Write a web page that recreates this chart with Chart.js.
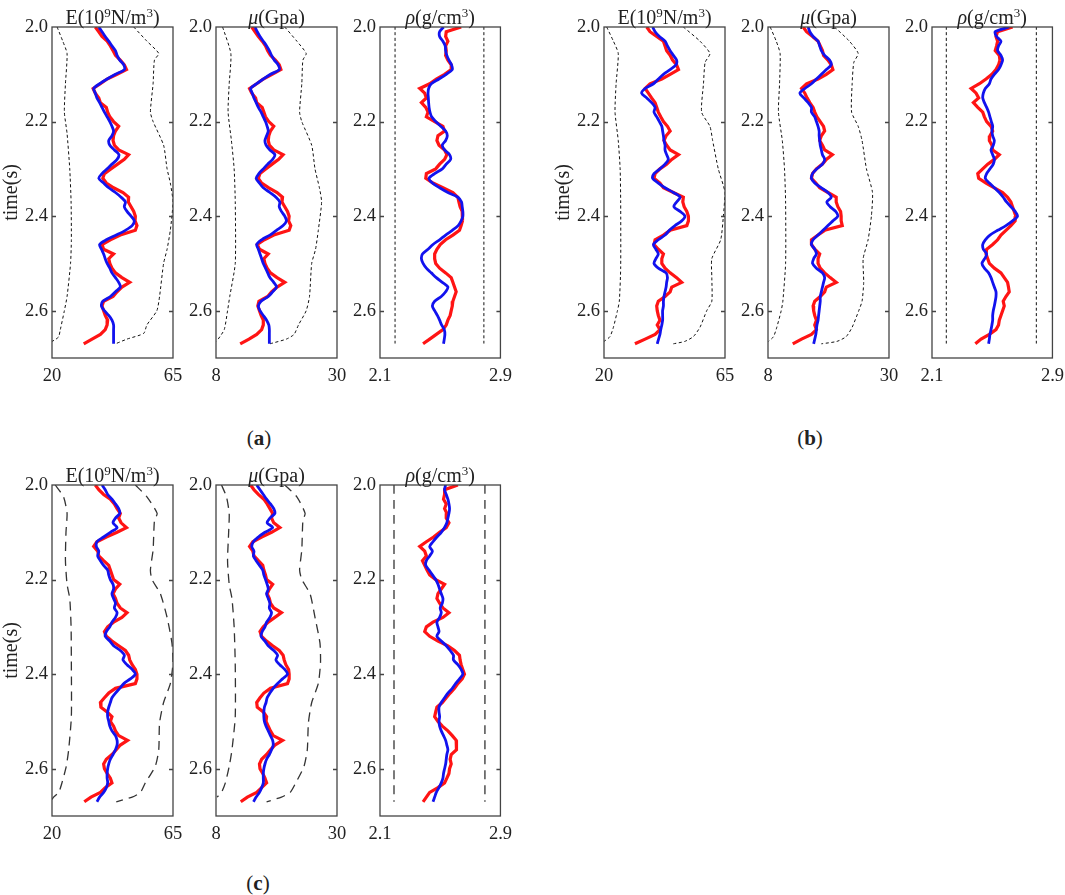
<!DOCTYPE html>
<html><head><meta charset="utf-8">
<script src="https://cdn.jsdelivr.net/npm/chart.js@4.4.1/dist/chart.umd.min.js"></script>
<style>
html,body{margin:0;padding:0;background:#fff}
body{width:1065px;height:895px;position:relative;overflow:hidden;font-family:"Liberation Serif","Times New Roman",serif}
canvas.pc{position:absolute}
.lab{position:absolute;font-family:"Liberation Serif","Times New Roman",serif;font-size:21px;line-height:21px;color:#222;transform:translateX(-50%);white-space:nowrap}
</style></head><body>
<div class="lab" style="left:259px;top:428px">(<b>a</b>)</div>
<div class="lab" style="left:810px;top:428px">(<b>b</b>)</div>
<div class="lab" style="left:258px;top:873px">(<b>c</b>)</div>
<script>
// ---------- DATA ----------
const timeGrid = [2.00,2.01,2.02,2.03,2.04,2.05,2.06,2.07,2.08,2.09,
 2.10,2.11,2.12,2.13,2.14,2.15,2.16,2.17,2.18,2.19,
 2.20,2.21,2.22,2.23,2.24,2.25,2.26,2.27,2.28,2.29,
 2.30,2.31,2.32,2.33,2.34,2.35,2.36,2.37,2.38,2.39,
 2.40,2.41,2.42,2.43,2.44,2.45,2.46,2.47,2.48,2.49,
 2.50,2.51,2.52,2.53,2.54,2.55,2.56,2.57,2.58,2.59,
 2.60,2.61,2.62,2.63,2.64,2.65,2.66,2.67];
const yTicks = [2.0, 2.2, 2.4, 2.6];
const xTicksE = [20, 65];
const xTicksMu = [8, 30];
const xTicksRho = [2.1, 2.9];

// (a)
const aEBlue = [37.4,38.6,39.8,41.1,42.3,43.6,44.2,45.2,46.7,46.9, 43.6,40.5,37.7,35.5,36.1,36.7,37.7,38.6,39.5,40.5, 41.5,42.3,42.9,42.3,41.1,41.5,43.2,44.9,44.2,42.3, 40.5,38.6,37.4,39.2,41.1,43.6,45.7,47.3,46.9,47.9, 49.4,50.6,49.8,47.3,43.9,40.2,37.7,38.4,39.2,39.8, 40.5,41.5,42.3,43.6,44.8,45.4,43.6,41.7,38.9,38.4, 39.5,41.1,42.3,42.9,42.9,42.9,42.9,42.9];
const aERed = [36.1,37.4,38.6,40.5,41.7,42.7,43.6,45.4,46.9,47.7, 44.2,40.5,38.0,35.3,36.1,37.4,38.0,40.2,40.7,41.5, 42.9,44.8,43.6,42.9,42.7,43.2,44.8,48.5,46.9,44.4, 41.9,39.5,38.9,40.2,42.9,46.4,48.5,48.4,49.4,50.4, 51.0,50.9,51.6,51.0,45.4,41.7,38.6,39.2,42.9,41.1, 41.5,42.3,43.6,46.0,48.9,46.0,44.2,42.7,39.2,38.6, 39.2,39.8,40.7,40.5,39.8,38.0,34.9,31.8];
const aELowT = [2.00,2.03,2.056,2.12,2.18,2.225,2.30,2.37,2.45,2.50,2.57,2.60,2.64,2.655,2.66,2.665];
const aELow = [21.9,24.0,25.6,25.0,24.6,25.6,26.6,27.1,27.2,26.9,25.6,24.6,23.1,22.5,21.5,20.0];
const aEHighT = [2.00,2.03,2.056,2.07,2.12,2.18,2.20,2.25,2.30,2.33,2.37,2.43,2.47,2.50,2.57,2.60,2.63,2.648,2.66,2.67];
const aEHigh = [50.4,55.3,59.7,58.1,57.6,56.6,57.6,61.5,62.8,64.0,65.0,64.0,62.8,61.5,60.0,59.0,55.3,54.1,47.9,43.6];

const aMuBlue = [15.1,15.5,16.0,16.6,17.2,17.7,18.1,18.6,19.3,19.5, 17.9,16.6,15.4,14.3,14.6,14.9,15.3,15.7,16.2,16.6, 17.0,17.3,17.5,17.2,16.9,17.1,17.8,18.7,18.3,17.4, 16.6,15.8,15.3,15.9,16.6,17.8,18.9,19.6,19.5,19.9, 20.5,20.8,20.2,19.0,17.8,16.3,15.4,15.7,16.0,16.3, 16.6,17.0,17.4,17.8,18.5,19.0,18.3,17.5,16.2,15.7, 16.0,16.6,17.2,17.6,17.7,17.7,17.7,17.7];
const aMuRed = [14.5,15.1,15.7,16.4,17.0,17.4,17.9,18.8,19.5,19.8, 18.2,16.6,15.4,14.1,14.5,15.2,15.4,16.4,16.7,17.0, 17.6,18.5,17.9,17.6,17.5,17.7,18.5,20.2,19.4,18.2, 17.1,16.0,15.7,16.3,17.6,19.1,20.1,20.0,20.5,21.0, 21.3,21.2,21.6,21.3,18.5,16.8,15.5,15.9,17.5,16.7, 16.9,17.3,17.9,19.1,20.5,19.1,18.1,17.4,15.8,15.6, 15.9,16.2,16.6,16.6,16.3,15.4,14.0,12.4];
const aMuLowT = [2.00,2.056,2.12,2.18,2.24,2.30,2.37,2.50,2.57,2.60,2.64,2.66,2.665];
const aMuLow = [9.2,10.7,10.4,10.2,10.8,11.3,11.5,11.5,10.5,10.1,9.5,8.4,8.0];
const aMuHighT = [2.00,2.03,2.056,2.07,2.12,2.18,2.20,2.25,2.30,2.34,2.37,2.43,2.47,2.50,2.57,2.60,2.63,2.65,2.66,2.67];
const aMuHigh = [20.5,22.7,24.4,23.8,23.6,23.2,23.6,25.4,26.0,26.8,27.2,26.6,26.1,25.4,25.0,24.4,23.0,22.2,20.8,17.8];

const aRhoBlue = [2.522,2.496,2.496,2.518,2.533,2.536,2.544,2.558,2.575,2.580, 2.540,2.492,2.441,2.423,2.419,2.421,2.423,2.426,2.432,2.443, 2.470,2.503,2.536,2.547,2.536,2.514,2.529,2.562,2.569,2.540, 2.514,2.463,2.426,2.448,2.496,2.551,2.617,2.641,2.646,2.650, 2.650,2.639,2.619,2.580,2.536,2.496,2.452,2.419,2.382,2.375, 2.386,2.408,2.441,2.474,2.514,2.551,2.536,2.507,2.463,2.448, 2.463,2.481,2.496,2.509,2.527,2.531,2.527,2.522];
const aRhoRed = [2.639,2.540,2.536,2.551,2.536,2.540,2.536,2.551,2.573,2.573, 2.529,2.474,2.430,2.364,2.397,2.408,2.375,2.404,2.419,2.408, 2.463,2.518,2.529,2.485,2.478,2.492,2.529,2.544,2.529,2.496, 2.470,2.408,2.404,2.452,2.518,2.584,2.617,2.624,2.632,2.646, 2.650,2.646,2.639,2.628,2.584,2.536,2.500,2.478,2.463,2.463, 2.470,2.496,2.536,2.573,2.584,2.595,2.606,2.595,2.584,2.580, 2.573,2.566,2.551,2.540,2.518,2.474,2.430,2.386];
const rhoBoundT = [2.0, 2.67];
const aRhoLow = [2.200, 2.200];
const aRhoHigh = [2.790, 2.790];

// (b)
const bEBlue = [38.1,39.0,40.6,42.7,43.6,44.6,45.8,47.0,46.8,44.6, 42.1,40.2,38.4,35.3,34.0,35.9,37.7,39.0,38.6,39.6, 40.6,41.5,41.8,42.1,42.3,42.7,42.7,43.3,43.9,42.7, 40.8,38.6,38.1,40.2,42.7,45.8,48.3,47.0,46.0,48.3, 50.1,48.9,46.4,44.3,42.7,40.2,38.4,39.3,40.2,39.3, 38.6,40.2,43.1,43.6,43.3,43.1,42.7,42.3,42.1,42.1, 41.8,41.8,41.8,41.5,41.1,40.8,40.3,39.8];
const bERed = [35.9,37.1,39.6,42.1,42.7,43.3,44.6,45.5,47.0,47.7, 44.6,41.5,37.1,35.3,36.5,37.7,39.0,39.6,40.2,41.1, 42.1,43.6,44.6,43.1,42.3,43.3,44.6,47.7,45.2,43.3, 40.8,39.0,38.6,40.8,42.1,45.8,49.5,49.3,49.8,50.8, 51.4,51.4,50.8,44.6,42.1,39.0,38.6,40.2,42.1,41.5, 41.5,42.7,44.6,47.0,48.9,45.2,44.6,42.7,40.2,39.6, 39.8,40.2,40.8,39.8,40.8,39.0,35.3,31.5];
const bELowT = [2.00,2.03,2.056,2.12,2.18,2.24,2.30,2.37,2.51,2.58,2.60,2.635,2.655,2.665];
const bELow = [21.0,23.5,25.3,24.5,24.1,25.3,26.0,26.2,26.2,25.7,25.0,23.5,22.2,20.0];
const bEHighT = [2.00,2.03,2.056,2.075,2.12,2.18,2.21,2.24,2.30,2.35,2.40,2.45,2.49,2.53,2.58,2.60,2.635,2.655,2.665,2.67];
const bEHigh = [49.5,55.7,59.4,57.6,57.0,56.3,59.4,60.4,62.5,65.0,64.4,63.4,60.1,60.1,60.1,58.2,55.7,53.2,50.0,45.8];

const bMuBlue = [15.3,15.6,16.2,17.1,17.4,17.7,18.3,19.2,19.5,18.6, 17.7,16.8,15.9,14.7,13.8,14.5,15.3,15.9,15.9,16.5, 16.8,17.1,17.3,17.3,17.4,17.5,17.7,17.9,18.3,17.9, 16.9,16.1,15.9,16.5,17.7,18.9,19.5,18.7,19.3,20.3, 20.7,19.8,18.9,18.0,17.1,16.2,15.9,16.5,16.8,16.3, 16.1,16.8,17.9,18.3,18.1,17.9,17.7,17.5,17.5,17.4, 17.3,17.2,17.1,16.9,16.8,16.7,16.5,16.3];
const bMuRed = [14.4,15.0,16.1,17.1,17.5,17.9,18.1,18.9,19.5,19.8, 18.6,17.1,15.0,14.1,14.7,15.1,15.6,16.2,16.5,16.9, 17.5,18.1,18.3,17.7,17.4,17.9,18.3,19.7,18.6,17.9, 16.8,16.1,15.9,16.7,17.4,18.9,20.4,20.4,20.7,21.2, 21.3,21.3,21.5,18.3,17.1,15.9,15.9,16.5,17.4,17.1, 17.1,17.5,18.3,19.3,20.4,18.6,18.3,17.5,16.5,16.2, 16.3,16.5,16.8,16.5,16.8,15.9,14.1,12.5];
const bMuLowT = [2.00,2.03,2.056,2.12,2.18,2.24,2.30,2.37,2.50,2.58,2.60,2.635,2.655,2.665];
const bMuLow = [8.4,9.5,10.2,10.1,9.9,10.6,11.0,11.2,11.2,10.7,10.4,9.6,9.0,8.1];
const bMuHighT = [2.00,2.03,2.056,2.075,2.12,2.18,2.21,2.24,2.30,2.35,2.40,2.45,2.49,2.54,2.58,2.60,2.635,2.655,2.665,2.67];
const bMuHigh = [20.1,22.8,24.4,23.6,23.3,23.2,24.4,25.1,25.9,27.0,26.8,26.2,25.3,25.4,25.1,24.5,23.3,22.2,20.5,17.7];

const bRhoBlue = [2.613,2.520,2.529,2.558,2.542,2.536,2.558,2.569,2.558,2.542, 2.514,2.492,2.481,2.454,2.441,2.437,2.448,2.463,2.476,2.485, 2.494,2.503,2.498,2.503,2.514,2.507,2.492,2.503,2.514,2.507, 2.485,2.463,2.454,2.481,2.514,2.547,2.573,2.595,2.624,2.652, 2.668,2.635,2.591,2.536,2.485,2.454,2.437,2.441,2.463,2.450, 2.432,2.448,2.476,2.492,2.503,2.514,2.525,2.525,2.520,2.514, 2.507,2.503,2.503,2.498,2.492,2.485,2.481,2.476];
const bRhoRed = [2.635,2.536,2.525,2.536,2.529,2.520,2.547,2.551,2.542,2.525, 2.498,2.459,2.415,2.360,2.393,2.410,2.375,2.404,2.437,2.448, 2.463,2.492,2.503,2.485,2.481,2.498,2.503,2.547,2.514,2.470, 2.437,2.404,2.410,2.459,2.514,2.569,2.602,2.624,2.635,2.646, 2.657,2.652,2.624,2.591,2.558,2.536,2.503,2.463,2.459,2.470, 2.481,2.514,2.558,2.580,2.602,2.608,2.613,2.591,2.573,2.580, 2.569,2.558,2.547,2.542,2.525,2.481,2.426,2.388];
const bRhoLow = [2.195, 2.195];
const bRhoHigh = [2.793, 2.793];

// (c)
const cEBlue = [38.6,39.8,40.7,42.3,43.6,44.8,45.2,43.6,42.7,44.2, 41.7,39.2,36.7,36.5,37.4,37.0,38.0,39.2,40.7,41.1, 41.7,42.7,42.9,42.3,42.9,43.6,43.2,44.2,43.6,42.3, 41.5,40.2,39.8,41.5,42.9,45.4,46.9,46.4,47.9,49.8, 51.0,49.1,46.7,45.2,43.6,42.3,41.7,41.1,40.7,40.7, 41.1,41.5,42.3,43.6,44.2,44.2,43.6,42.7,41.7,41.1, 40.7,40.5,40.5,40.7,40.2,39.2,37.7,36.7];
const cERed = [36.1,37.4,39.2,41.7,43.2,44.2,45.4,44.8,45.7,47.7, 44.2,40.2,36.7,35.5,37.0,37.4,39.2,41.1,41.7,42.3, 42.9,45.2,43.6,42.7,43.6,44.2,45.4,47.9,46.0,42.9, 40.7,39.5,40.2,42.3,44.8,47.3,48.5,48.9,49.8,51.0, 51.6,51.6,51.0,43.6,41.1,39.5,38.0,38.2,40.5,42.3, 41.7,42.9,43.6,44.8,48.1,45.4,43.9,42.3,40.2,39.2, 39.5,40.5,41.7,42.3,39.8,38.0,34.5,32.0];
const cELowT = [2.00,2.025,2.06,2.10,2.16,2.21,2.24,2.30,2.38,2.49,2.56,2.595,2.63,2.65,2.66,2.665];
const cELow = [21.2,24.3,25.6,25.2,25.0,25.6,26.6,27.1,27.2,27.2,26.2,25.3,23.7,22.5,20.6,20.0];
const cEHighT = [2.00,2.025,2.06,2.075,2.137,2.18,2.20,2.23,2.28,2.334,2.376,2.42,2.46,2.503,2.56,2.595,2.63,2.65,2.66,2.67];
const cEHigh = [51.0,55.3,59.1,58.1,57.6,56.6,57.2,60.3,62.8,64.6,65.0,64.0,61.5,60.0,59.7,58.4,54.7,52.9,49.8,43.9];

const cMuBlue = [15.4,16.0,16.6,17.2,17.9,18.5,18.7,17.8,17.3,18.3, 16.9,15.7,14.8,14.5,14.9,14.8,15.3,15.9,16.5,16.7, 17.0,17.3,17.5,17.2,17.5,17.8,17.7,18.1,17.8,17.2, 16.9,16.4,16.2,16.9,17.5,18.5,19.2,18.9,19.6,20.5, 21.0,20.1,19.2,18.4,17.8,17.3,17.1,16.8,16.7,16.7, 16.8,17.1,17.5,17.9,18.3,18.4,18.1,17.7,17.2,16.9, 16.7,16.6,16.6,16.6,16.3,15.9,15.3,14.8];
const cMuRed = [14.3,14.9,15.7,16.7,17.3,17.8,18.3,18.1,18.5,19.6, 18.1,16.3,14.7,14.1,14.7,14.9,15.7,16.5,16.7,17.0, 17.2,18.3,17.7,17.3,17.7,17.9,18.5,19.9,18.7,17.5, 16.6,16.0,16.3,17.2,18.3,19.5,20.2,20.4,20.7,21.2, 21.3,21.3,21.0,17.9,16.7,16.0,15.4,15.5,16.6,17.2, 17.1,17.5,17.9,18.4,20.1,18.7,17.9,17.2,16.3,15.9, 16.0,16.5,16.9,17.2,16.3,15.4,13.7,12.5];
const cMuLowT = [2.00,2.025,2.06,2.10,2.16,2.21,2.24,2.30,2.38,2.49,2.56,2.595,2.63,2.65,2.66];
const cMuLow = [9.0,9.9,10.4,10.3,10.1,10.4,10.9,11.3,11.5,11.5,10.9,10.4,9.7,9.0,8.2];
const cMuHighT = [2.00,2.025,2.06,2.075,2.137,2.18,2.20,2.23,2.28,2.334,2.376,2.42,2.46,2.503,2.56,2.595,2.63,2.65,2.66,2.67];
const cMuHigh = [20.5,22.7,24.2,23.8,23.6,23.2,23.6,25.1,26.0,26.9,27.0,26.6,25.4,24.8,24.6,24.0,22.5,21.5,19.9,17.2];

const cRhoBlue = [2.536,2.529,2.540,2.551,2.558,2.562,2.558,2.551,2.544,2.529, 2.507,2.478,2.452,2.430,2.448,2.430,2.408,2.404,2.426,2.448, 2.470,2.485,2.496,2.507,2.518,2.514,2.500,2.507,2.496,2.478, 2.485,2.492,2.478,2.507,2.540,2.566,2.588,2.588,2.617,2.639, 2.650,2.628,2.602,2.580,2.551,2.529,2.507,2.492,2.492,2.496, 2.492,2.496,2.507,2.522,2.536,2.544,2.551,2.544,2.540,2.536, 2.529,2.522,2.518,2.507,2.492,2.474,2.463,2.452];
const cRhoRed = [2.617,2.529,2.529,2.522,2.540,2.529,2.544,2.540,2.558,2.540, 2.496,2.456,2.408,2.364,2.397,2.408,2.382,2.397,2.412,2.430, 2.470,2.529,2.507,2.485,2.478,2.496,2.518,2.558,2.518,2.452, 2.408,2.397,2.430,2.485,2.551,2.595,2.628,2.632,2.639,2.650, 2.661,2.646,2.617,2.595,2.566,2.540,2.514,2.478,2.470,2.463, 2.485,2.514,2.551,2.580,2.606,2.606,2.610,2.573,2.566,2.573, 2.562,2.558,2.544,2.529,2.485,2.430,2.408,2.386];
const cRhoLow = [2.193, 2.193];
const cRhoHigh = [2.797, 2.797];

// ---------- LAYOUT / STYLE ----------
const FONT = '"Liberation Serif", "Times New Roman", serif';
const PANEL_W = 121, PANEL_H = 331, AXIS_W = 50, TOP_PAD = 27, RIGHT_PAD = 18, BOTTOM_H = 32;
const groups = [
  {key:'a', x:51.7, y:26.5, dash:[3,2.5], dashColor:'#111', dashWidth:1},
  {key:'b', x:604,  y:26.5, dash:[3,2.5], dashColor:'#111', dashWidth:1},
  {key:'c', x:51.7, y:485,  dash:[9,6],   dashColor:'#333', dashWidth:1.3}
];
const colDx = [0, 164.3, 328.3];

const titles = {
  E:   [{t:'E(10'},{t:'9',sup:true},{t:'N/m'},{t:'3',sup:true},{t:')'}],
  Mu:  [{t:'\u03BC',it:true},{t:'(Gpa)'}],
  Rho: [{t:'\u03C1',it:true},{t:'(g/cm'},{t:'3',sup:true},{t:')'}]
};
const ranges = { E:[20,65,xTicksE], Mu:[8,30,xTicksMu], Rho:[2.1,2.9,xTicksRho] };

const dataTable = {
  a:{E:[aEBlue,aERed,aELowT,aELow,aEHighT,aEHigh], Mu:[aMuBlue,aMuRed,aMuLowT,aMuLow,aMuHighT,aMuHigh], Rho:[aRhoBlue,aRhoRed,rhoBoundT,aRhoLow,rhoBoundT,aRhoHigh]},
  b:{E:[bEBlue,bERed,bELowT,bELow,bEHighT,bEHigh], Mu:[bMuBlue,bMuRed,bMuLowT,bMuLow,bMuHighT,bMuHigh], Rho:[bRhoBlue,bRhoRed,rhoBoundT,bRhoLow,rhoBoundT,bRhoHigh]},
  c:{E:[cEBlue,cERed,cELowT,cELow,cEHighT,cEHigh], Mu:[cMuBlue,cMuRed,cMuLowT,cMuLow,cMuHighT,cMuHigh], Rho:[cRhoBlue,cRhoRed,rhoBoundT,cRhoLow,rhoBoundT,cRhoHigh]}
};

function pts(ts, vs){ return ts.map((t,i)=>({x:vs[i], y:t})); }

function framePlugin(segs){
  return {
    id:'frameTitle',
    afterDraw(chart){
      const {ctx, chartArea:{left,right,top,bottom}, scales:{y}} = chart;
      ctx.save();
      ctx.strokeStyle = '#444'; ctx.lineWidth = 1.3;
      ctx.strokeRect(left, top, right-left, bottom-top);
      ctx.beginPath();
      yTicks.forEach(v=>{
        if (v === 2.0) return;
        const py = Math.round(y.getPixelForValue(v)) + 0.5;
        ctx.moveTo(left, py); ctx.lineTo(left+4, py);
        ctx.moveTo(right, py); ctx.lineTo(right-4, py);
      });
      ctx.stroke();
      // title
      const fontOf = s => s.sup ? '13px ' + FONT : (s.it ? 'italic 20px ' + FONT : '20px ' + FONT);
      let total = 0;
      segs.forEach(s=>{ ctx.font = fontOf(s); total += ctx.measureText(s.t).width; });
      let x = (left+right)/2 - total/2;
      const base = top - 3.5;
      ctx.fillStyle = '#222'; ctx.textBaseline = 'alphabetic'; ctx.textAlign = 'left';
      segs.forEach(s=>{
        ctx.font = fontOf(s);
        ctx.fillText(s.t, x, s.sup ? base - 7 : base);
        x += ctx.measureText(s.t).width;
      });
      ctx.restore();
    }
  };
}

function makePanel(g, col, kind){
  const fx = g.x + colDx[col], fy = g.y;
  const cv = document.createElement('canvas');
  cv.className = 'pc';
  const W = AXIS_W + PANEL_W + RIGHT_PAD, H = TOP_PAD + PANEL_H + BOTTOM_H;
  cv.width = W; cv.height = H;
  cv.style.width = W + 'px'; cv.style.height = H + 'px';
  cv.style.left = (fx - AXIS_W) + 'px'; cv.style.top = (fy - TOP_PAD) + 'px';
  document.body.appendChild(cv);
  const [blue, red, loT, lo, hiT, hi] = dataTable[g.key][kind];
  const [xmin, xmax, xt] = ranges[kind];
  const dashDs = (ts, vs) => ({data:pts(ts, vs), showLine:true, pointRadius:0, borderColor:g.dashColor,
    borderWidth:g.dashWidth, borderDash:g.dash, tension:0.2, order:2, fill:false});
  new Chart(cv, {
    type:'scatter',
    data:{datasets:[
      {label:'blue', data:pts(timeGrid, blue), showLine:true, pointRadius:0, borderColor:'#1212ee', borderWidth:2.8, tension:0.3, order:0, fill:false},
      {label:'red', data:pts(timeGrid, red), showLine:true, pointRadius:0, borderColor:'#ff1414', borderWidth:3.2, tension:0, order:1, fill:false},
      Object.assign({label:'lower'}, dashDs(loT, lo)),
      Object.assign({label:'upper'}, dashDs(hiT, hi))
    ]},
    options:{
      responsive:false, animation:false, devicePixelRatio:1,
      layout:{padding:{top:TOP_PAD, right:RIGHT_PAD, left:0, bottom:0}},
      plugins:{legend:{display:false}, tooltip:{enabled:false}},
      scales:{
        x:{type:'linear', min:xmin, max:xmax,
           grid:{display:false, drawTicks:false}, border:{display:false},
           afterBuildTicks:s=>{ s.ticks = xt.map(v=>({value:v})); },
           afterFit:s=>{ s.height = BOTTOM_H; },
           ticks:{padding:7, color:'#222', autoSkip:false, maxRotation:0,
                  font:{family:FONT, size:18.5}, callback:v=>String(v)}},
        y:{type:'linear', reverse:true, min:2.0, max:2.7,
           grid:{display:false, drawTicks:false}, border:{display:false},
           afterBuildTicks:s=>{ s.ticks = yTicks.map(v=>({value:v})); },
           afterFit:s=>{ s.width = AXIS_W; },
           ticks:{padding:4, color:'#222', autoSkip:false,
                  font:{family:FONT, size:18.5}, callback:v=>Number(v).toFixed(1)},
           title:{display: col === 0, text:'time(s)', color:'#222', padding:0,
                  font:{family:FONT, size:20, lineHeight:1}}}
      }
    },
    plugins:[framePlugin(titles[kind])]
  });
}

groups.forEach(g=>{
  makePanel(g, 0, 'E');
  makePanel(g, 1, 'Mu');
  makePanel(g, 2, 'Rho');
});
</script>
</body></html>
